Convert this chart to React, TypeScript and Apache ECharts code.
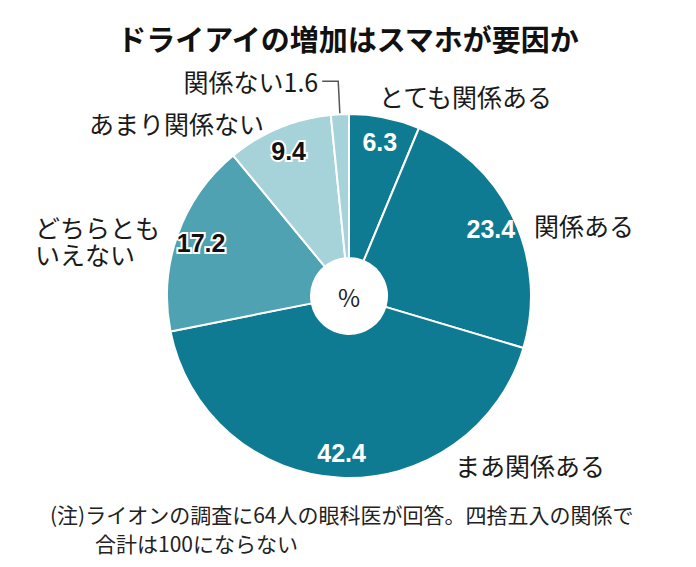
import React, { useEffect, useRef } from "react";
import * as echarts from "echarts";

const titleText = "ドライアイの増加はスマホが要因か";
const categories = ["とても関係ある", "関係ある", "まあ関係ある", "どちらとも\nいえない", "あまり関係ない", "関係ない"];
const values = [6.3, 23.4, 42.4, 17.2, 9.4, 1.6];
const sliceColors = ["#0f7b93", "#0f7b93", "#0f7b93", "#4fa2b1", "#a6d3da", "#a6d3da"];
const valueLabelColors = ["#ffffff", "#ffffff", "#ffffff", "#111111", "#111111", "#111111"];
const unitText = "%";
const noteLine1 = "(注)ライオンの調査に64人の眼科医が回答。四捨五入の関係で";
const noteLine2 = "合計は100にならない";

const JP = "'Noto Sans CJK JP', 'Noto Sans', sans-serif";
const NUM = "'Liberation Sans', Arial, sans-serif";

// label anchor positions (layout only)
const namePos: Record<number, [number, number]> = {
  0: [379, 96],
  1: [534, 225],
  2: [455, 465],
  3: [35, 240],
  4: [89, 123],
};

export default function App() {
  const ref = useRef<HTMLDivElement>(null);
  useEffect(() => {
    if (!ref.current) return;
    const chart = echarts.init(ref.current, undefined, { renderer: "svg" });
    const center = [349, 296];
    const mainData = categories.map((name, i) => ({
      name,
      value: values[i],
      itemStyle: { color: sliceColors[i] },
      labelLine:
        i === 5
          ? { show: true, length: 33, length2: 16, lineStyle: { color: "#555", width: 1.5 } }
          : { show: false },
    }));
    const valueData = categories.map((name, i) => ({
      name,
      value: values[i],
      label: {
        show: i !== 5,
        color: valueLabelColors[i],
        textBorderColor: i >= 3 ? "#ffffff" : "transparent",
        textBorderWidth: i >= 3 ? 4 : 0,
      },
    }));
    chart.setOption({
      animation: false,
      title: {
        text: titleText,
        left: "center",
        top: 18,
        textStyle: { fontSize: 29, fontWeight: "bold", color: "#111", fontFamily: JP },
      },
      graphic: [
        {
          type: "text",
          x: center[0],
          y: center[1],
          z: 100,
          style: { text: unitText, fontSize: 24, fill: "#222", fontFamily: JP, textAlign: "center", textVerticalAlign: "middle" },
        },
        {
          type: "text",
          x: 50,
          y: 514,
          style: { text: noteLine1, fontSize: 21, fill: "#222", fontFamily: JP, textVerticalAlign: "middle" },
        },
        {
          type: "text",
          x: 95,
          y: 543,
          style: { text: noteLine2, fontSize: 21, fill: "#222", fontFamily: JP, textVerticalAlign: "middle" },
        },
      ],
      series: [
        {
          type: "pie",
          center,
          radius: [38, 182],
          startAngle: 90,
          clockwise: true,
          avoidLabelOverlap: false,
          silent: true,
          itemStyle: { borderColor: "#ffffff", borderWidth: 2 },
          label: {
            show: true,
            position: "outside",
            fontSize: 25,
            lineHeight: 27,
            color: "#1a1a1a",
            fontFamily: JP,
            distanceToLabelLine: 4,
            formatter: (p: any) => (p.dataIndex === 5 ? p.name + p.value : p.name),
          },
          labelLayout: (p: any) => {
            const pos = namePos[p.dataIndex];
            if (!pos) return {};
            return { x: pos[0], y: pos[1], align: "left", verticalAlign: "middle" };
          },
          data: mainData,
        },
        {
          type: "pie",
          center,
          radius: [126, 182],
          startAngle: 90,
          clockwise: true,
          silent: true,
          avoidLabelOverlap: false,
          itemStyle: { color: "rgba(0,0,0,0)", borderWidth: 0 },
          labelLine: { show: false },
          label: {
            position: "inside",
            formatter: "{c}",
            fontSize: 25,
            fontWeight: "bold",
            fontFamily: NUM,
          },
          data: valueData,
        },
      ],
    });
    return () => chart.dispose();
  }, []);
  return <div ref={ref} style={{ position: "absolute", left: 0, top: 0, width: 696, height: 567 }} />;
}
